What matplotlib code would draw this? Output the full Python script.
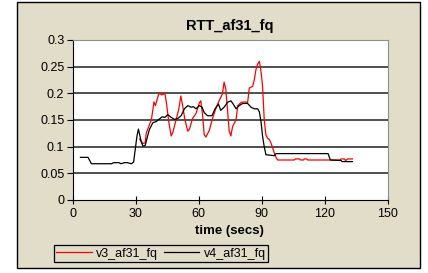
import matplotlib
matplotlib.use('Agg')
import matplotlib.pyplot as plt
from matplotlib.patches import Rectangle

plt.rcParams['font.family'] = ['Liberation Sans', 'DejaVu Sans']

# data
v3_t = [31.9, 33.4, 34.5, 35.0, 37.5, 38.7, 39.4, 41.0, 42.5, 43.9, 44.6, 45.8,
        46.9, 47.7, 49.2, 50.5, 51.5, 52.3, 53.4, 54.8, 55.6, 57.1, 58.7, 60.3,
        61.0, 61.8, 62.6, 63.4, 65.0, 66.6, 68.1, 69.7, 71.3, 72.1, 72.9, 73.7,
        74.5, 75.3, 76.1, 77.8, 78.6, 80.2, 81.7, 83.3, 84.1, 85.7, 86.5, 87.3,
        88.1, 88.9, 89.7, 90.4, 90.8, 91.2, 92.0, 92.8, 93.7, 94.4, 95.2, 96.0,
        96.8, 97.6, 105.5, 106.0, 108.0, 108.5, 109.8, 110.3, 111.4, 111.9,
        127.3, 127.8, 129.3, 130.0, 131.0, 133.2]
v3_v = [0.114, 0.106, 0.107, 0.125, 0.151, 0.184, 0.177, 0.200, 0.197, 0.200,
        0.183, 0.145, 0.120, 0.127, 0.150, 0.170, 0.195, 0.178, 0.151, 0.129,
        0.133, 0.153, 0.162, 0.182, 0.186, 0.161, 0.123, 0.118, 0.130, 0.153,
        0.171, 0.186, 0.199, 0.221, 0.208, 0.170, 0.130, 0.120, 0.137, 0.151,
        0.177, 0.183, 0.184, 0.183, 0.210, 0.213, 0.226, 0.245, 0.255, 0.260,
        0.240, 0.214, 0.183, 0.151, 0.122, 0.116, 0.113, 0.107, 0.098, 0.088,
        0.080, 0.075, 0.075, 0.077, 0.077, 0.075, 0.075, 0.077, 0.077, 0.075,
        0.075, 0.077, 0.077, 0.074, 0.077, 0.077]

v4_t = [3.7, 7.3, 8.9, 18.5, 19.5, 22.0, 23.0, 24.5, 26.0, 27.9, 29.0, 30.6,
        31.3, 32.7, 33.5, 34.5, 36.5, 38.2, 39.8, 41.3, 42.6, 43.9, 45.3, 46.9,
        48.5, 50.1, 51.6, 53.2, 54.8, 56.4, 57.5, 58.7, 60.3, 61.6, 62.6, 64.2,
        66.3, 67.8, 69.4, 70.5, 72.1, 73.7, 75.3, 76.4, 77.8, 79.3, 80.9, 83.3,
        84.9, 86.5, 88.1, 88.9, 89.7, 90.4, 91.2, 92.0, 96.0, 96.8, 121.6,
        122.7, 127.8, 128.3, 133.2]
v4_v = [0.080, 0.080, 0.068, 0.068, 0.070, 0.070, 0.068, 0.070, 0.070, 0.068,
        0.071, 0.120, 0.133, 0.108, 0.101, 0.102, 0.132, 0.145, 0.147, 0.152,
        0.156, 0.155, 0.160, 0.155, 0.151, 0.153, 0.158, 0.171, 0.177, 0.174,
        0.175, 0.171, 0.177, 0.174, 0.164, 0.158, 0.158, 0.171, 0.180, 0.168,
        0.174, 0.183, 0.186, 0.180, 0.171, 0.177, 0.181, 0.181, 0.174, 0.171,
        0.171, 0.165, 0.146, 0.120, 0.100, 0.085, 0.083, 0.087, 0.087, 0.075,
        0.074, 0.072, 0.072]

x_ticks = [0, 30, 60, 90, 120, 150]
y_ticks = [0, 0.05, 0.1, 0.15, 0.2, 0.25, 0.3]
y_labels = ['0', '0.05', '0.1', '0.15', '0.2', '0.25', '0.3']

BEIGE = '#E1DDC8'

fig = plt.figure(figsize=(4.28, 2.73), dpi=100)
fig.patch.set_facecolor('white')

# chart area frame (behind everything)
frame = Rectangle((17 / 428, 5 / 273), 403 / 428, 266 / 273,
                  transform=fig.transFigure, facecolor=BEIGE,
                  edgecolor='black', linewidth=1, zorder=-10)
fig.add_artist(frame)

ax = fig.add_axes([72.7 / 428, 1 - 200 / 273, 315 / 428, 160 / 273])
ax.set_zorder(1)
ax.set_facecolor('white')
ax.set_xlim(0, 150)
ax.set_ylim(0, 0.3)

for y in y_ticks[1:-1]:
    ax.axhline(y, color='#202020', linewidth=1.1, zorder=1)

ax.plot(v3_t, v3_v, color='#FF0000', linewidth=0.9, label='v3_af31_fq', zorder=3)
ax.plot(v4_t, v4_v, color='black', linewidth=0.9, label='v4_af31_fq', zorder=3)

ax.set_xticks(x_ticks)
ax.set_yticks(y_ticks)
ax.set_yticklabels(y_labels)
ax.tick_params(axis='both', labelsize=9, length=4, width=0.8, direction='out', pad=2)
ax.tick_params(axis='x', direction='inout', length=6, pad=3)
for s in ['top', 'right']:
    ax.spines[s].set_color('#909090')
for s in ['left', 'bottom']:
    ax.spines[s].set_color('black')

fig.text(0.537, 0.905, 'RTT_af31_fq', ha='center', va='center',
         fontsize=10.5, fontweight='bold')
fig.text(0.537, 0.153, 'time (secs)', ha='center', va='center',
         fontsize=9.5, fontweight='bold')

leg = fig.legend(loc='lower left', bbox_to_anchor=(54 / 428, 11 / 273),
                 bbox_transform=fig.transFigure, ncol=2, fontsize=9,
                 frameon=True, fancybox=False, edgecolor='black',
                 facecolor=BEIGE, framealpha=1, handlelength=2.8,
                 handletextpad=0.35, columnspacing=0.5, borderpad=0.2,
                 borderaxespad=0)
leg.get_frame().set_linewidth(0.9)
leg.set_zorder(5)

fig.savefig('out.png', dpi=100, facecolor='white')
